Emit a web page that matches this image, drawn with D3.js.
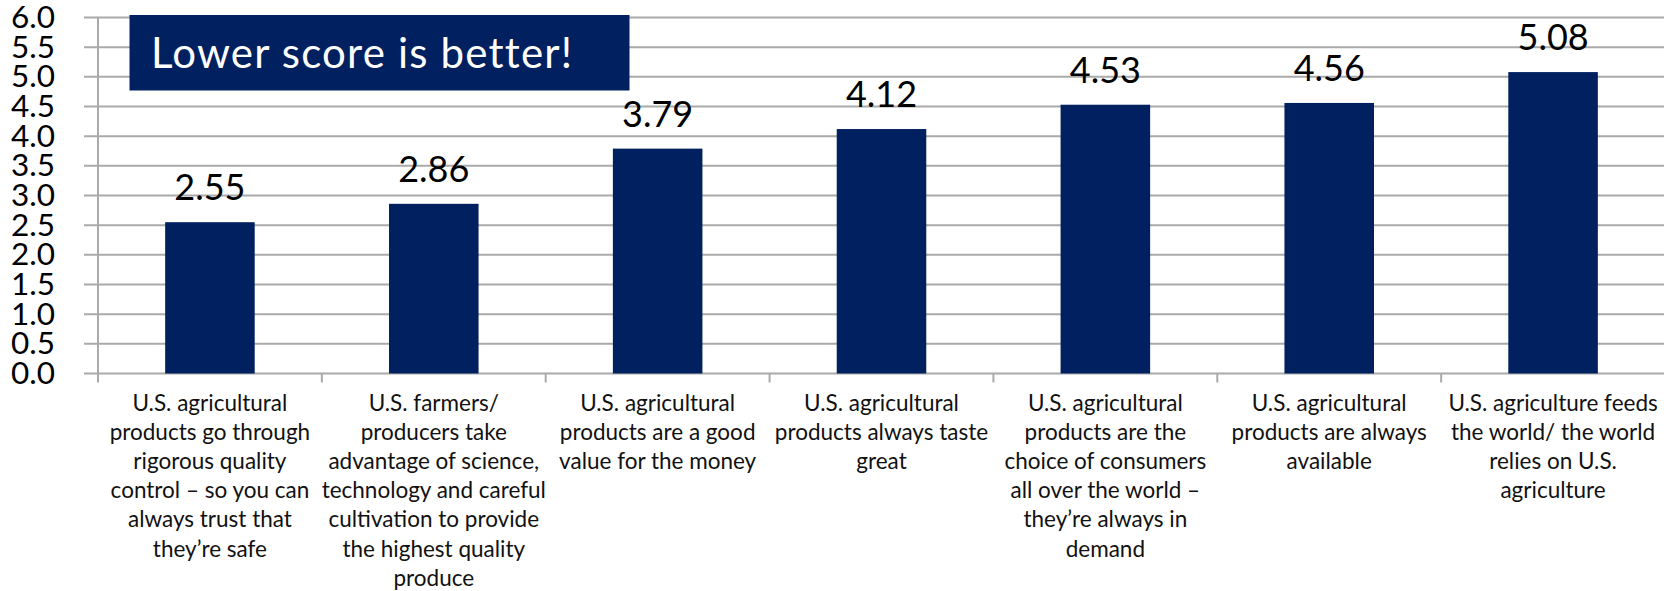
<!DOCTYPE html>
<html>
<head>
<meta charset="utf-8">
<script src="https://cdn.jsdelivr.net/npm/d3@7"></script>
<style>
  html, body { margin: 0; padding: 0; background: #fff; }
  svg { display: block; font-family: Lato, "Open Sans", sans-serif; }
  .grid line { stroke: #aaaaaa; stroke-width: 2; }
</style>
</head>
<body>
<svg id="chart" width="1664" height="591"></svg>
<script>
// category labels, already broken into lines like the original
const categories = [
  ["U.S. agricultural", "products go through", "rigorous quality", "control \u2013 so you can", "always trust that", "they\u2019re safe"],
  ["U.S. farmers/", "producers take", "advantage of science,", "technology and careful", "cultivation to provide", "the highest quality", "produce"],
  ["U.S. agricultural", "products are a good", "value for the money"],
  ["U.S. agricultural", "products always taste", "great"],
  ["U.S. agricultural", "products are the", "choice of consumers", "all over the world \u2013", "they\u2019re always in", "demand"],
  ["U.S. agricultural", "products are always", "available"],
  ["U.S. agriculture feeds", "the world/ the world", "relies on U.S.", "agriculture"]
];
const scores = [2.55, 2.86, 3.79, 4.12, 4.53, 4.56, 5.08];
const yTicks = [0, 0.5, 1, 1.5, 2, 2.5, 3, 3.5, 4, 4.5, 5, 5.5, 6];
const note = "Lower score is better!";

const navy = "#002060";
const svg = d3.select("#chart");

const x = d3.scaleBand()
  .domain(d3.range(categories.length))
  .range([98, 1665])
  .paddingInner(0.6)
  .paddingOuter(0.3);

const y = d3.scaleLinear().domain([0, 6]).range([373.5, 17.5]);

// gridlines (they poke out left of the axis like excel's tick marks)
svg.append("g").attr("class", "grid")
  .selectAll("line").data(yTicks).join("line")
  .attr("x1", 84).attr("x2", 1664)
  .attr("y1", d => y(d)).attr("y2", d => y(d));

// vertical axis line
svg.append("line")
  .attr("x1", 98).attr("x2", 98)
  .attr("y1", y(6)).attr("y2", y(0))
  .attr("stroke", "#aaaaaa").attr("stroke-width", 2);

// y labels - they nearly touch in the original too
svg.append("g").selectAll("text").data(yTicks).join("text")
  .attr("x", 55)
  .attr("y", d => y(d) - 1)
  .attr("dy", "0.36em")
  .attr("text-anchor", "end")
  .attr("font-size", 31.5)
  .attr("fill", "#000")
  .text(d => d.toFixed(1));

// category boundary ticks under the axis
const step = x.step();
const bounds = d3.range(categories.length + 1).map(i => x.range()[0] + i * step);
svg.append("g").selectAll("line").data(bounds).join("line")
  .attr("x1", d => d).attr("x2", d => d)
  .attr("y1", y(0)).attr("y2", y(0) + 9)
  .attr("stroke", "#aaaaaa").attr("stroke-width", 2);

// bars
svg.append("g").selectAll("rect").data(scores).join("rect")
  .attr("x", (d, i) => x(i))
  .attr("width", x.bandwidth())
  .attr("y", d => y(d))
  .attr("height", d => y(0) - y(d))
  .attr("fill", navy);

// value labels
svg.append("g").selectAll("text").data(scores).join("text")
  .attr("x", (d, i) => x(i) + x.bandwidth() / 2)
  .attr("y", d => y(d) - 22)
  .attr("text-anchor", "middle")
  .attr("font-size", 36)
  .attr("fill", "#000")
  .text(d => d.toFixed(2));

// category labels
const cat = svg.append("g").selectAll("text").data(categories).join("text")
  .attr("text-anchor", "middle")
  .attr("font-size", 22.5)
  .attr("fill", "#111");
cat.each(function (lines, i) {
  const cx = x(i) + x.bandwidth() / 2;
  d3.select(this).selectAll("tspan").data(lines).join("tspan")
    .attr("x", cx)
    .attr("y", (l, j) => 411 + j * 29.1)
    .text(l => l);
});

// note box
svg.append("rect")
  .attr("x", 129.5).attr("y", 15)
  .attr("width", 500).attr("height", 75.5)
  .attr("fill", navy);
svg.append("text")
  .attr("x", 151).attr("y", 68)
  .attr("font-size", 42)
  .attr("letter-spacing", 1.2)
  .attr("fill", "#fff")
  .text(note);
</script>
</body>
</html>
